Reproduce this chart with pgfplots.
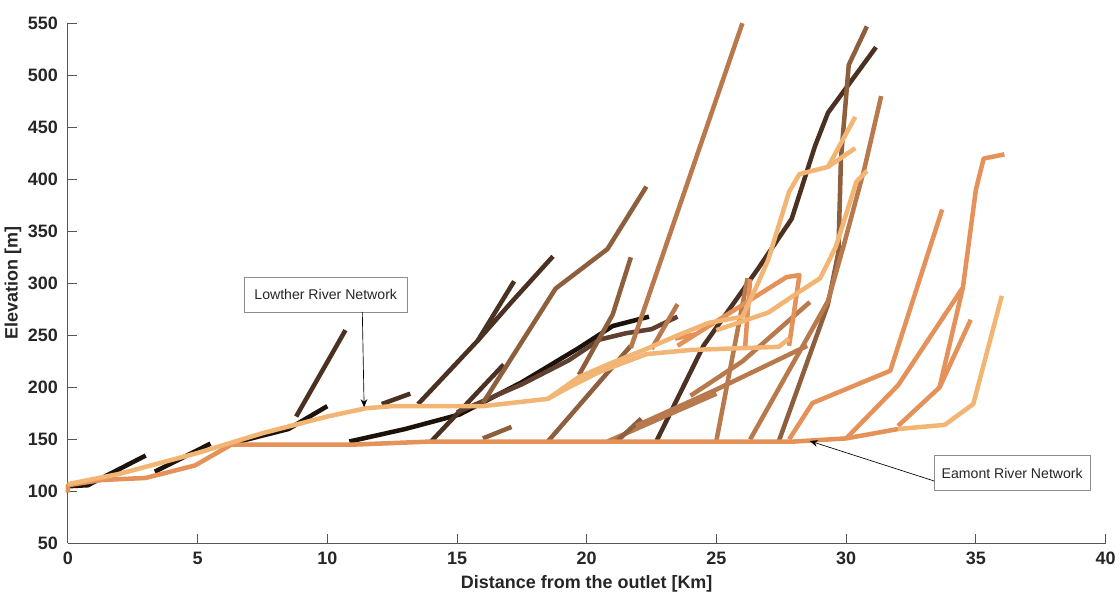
\documentclass[border=0pt]{standalone}
\usepackage{fontspec}
\setmainfont{Liberation Sans}
\usepackage{pgfplots}
\pgfplotsset{compat=1.18}
\usetikzlibrary{arrows.meta}
\definecolor{ca}{HTML}{1C120A}
\definecolor{cb}{HTML}{4A3121}
\definecolor{cbb}{HTML}{604030}
\definecolor{cc}{HTML}{8E5F3D}
\definecolor{cd}{HTML}{B8794C}
\definecolor{ce}{HTML}{E4915A}
\definecolor{cf}{HTML}{F3B574}
\definecolor{axgray}{HTML}{555555}
\begin{document}
\begin{tikzpicture}
\begin{axis}[
  scale only axis, width=780pt, height=391pt,
  xmin=0, xmax=40, ymin=50, ymax=550,
  axis lines*=left,
  axis line style={axgray, line width=0.6pt},
  tick style={axgray, line width=0.6pt},
  tick align=inside, major tick length=7pt,
  xtick={0,5,...,40}, ytick={50,100,...,550},
  /pgf/number format/assume math mode=true,
  tick label style={font=\fontsize{13.5}{15}\selectfont\bfseries, text=black!85},
  xticklabel style={yshift=-3pt},
  yticklabel style={xshift=-4pt},
  xlabel={Distance from the outlet [Km]},
  ylabel={Elevation [m]},
  label style={font=\fontsize{13.5}{15}\selectfont\bfseries, text=black!85},
  xlabel style={at={(axis description cs:0.5,-0.078)}, anchor=center},
  ylabel style={at={(axis description cs:-0.053,0.5)}, anchor=center},
  clip=false,
  every axis plot/.append style={line width=3.4pt, line join=round},
]
% black
\addplot[ca] coordinates {(0,105)(0.77,106)(3,134.5)};
\addplot[ca] coordinates {(3.35,119)(5.5,146)};
\addplot[ca] coordinates {(6.6,148)(8.5,160)(10,182)};
\addplot[ca] coordinates {(10.85,148)(13,160)(15.1,174)(17.5,205)(19.7,238)(21,259)(22.4,268)};
% dark brown
\addplot[cb] coordinates {(8.8,172)(10.7,255)};
\addplot[cb] coordinates {(12.1,184)(13.2,194)};
\addplot[cb] coordinates {(14,148)(16.8,222)};
\addplot[cb] coordinates {(13.5,184)(15.8,245)(17.2,302)};
\addplot[cb] coordinates {(15.8,245)(17.1,282)(18.7,326)};
\addplot[cbb] coordinates {(15,176)(17.5,203)(19.3,226)(20.5,246)(21.5,252)(22.5,256)(23.5,268)};
\addplot[cb] coordinates {(22.7,149)(24.5,240)(26.6,314)(27.9,362)(28.8,432)(29.3,464)(31.15,527)};
% brown
\addplot[cc] coordinates {(16,151)(17.1,162)};
\addplot[cc] coordinates {(16,185)(18.8,295)(20.8,333)(22.3,393)};
\addplot[cc] coordinates {(18.5,148)(21.7,240)};
\addplot[cc] coordinates {(19.7,212)(21,270)(21.7,325)};
\addplot[cd] coordinates {(21.7,238)(26,550)};
\addplot[cd] coordinates {(22.5,237)(23.5,280)};
\addplot[cc] coordinates {(27.4,148)(29.3,280)(29.7,330)(29.8,420)(30.1,510)(30.8,547)};
\addplot[cd] coordinates {(26.3,150)(29.3,283)(29.9,336)(30.7,410)(31.35,480)};
\addplot[cd] coordinates {(20.8,148)(25,194)};
\addplot[cc] coordinates {(21.2,149)(22.1,170)};
\addplot[cd] coordinates {(21.9,163)(25,198)(28.5,240)};
\addplot[cd] coordinates {(24,192)(26,225)(28.6,282)};
\addplot[cd] coordinates {(25,149)(26.2,305)};
% orange
\addplot[ce] coordinates {(0,99)(0,106)(1.3,111)(3,113)(4.9,125)(6.3,145)(11,145)(14,148)(28,148)(30,151)(32,160)};
\addplot[ce] coordinates {(30,151)(32,202)(34.5,296)(35,390)(35.3,420)(36.1,424)};
\addplot[ce] coordinates {(32,163)(33.6,200)(34.5,296)};
\addplot[ce] coordinates {(33.6,200)(34.8,265)};
\addplot[ce] coordinates {(27.8,150)(28.7,185)(31.7,216)(33.7,371)};
\addplot[ce] coordinates {(26.1,237)(26.3,304)};
\addplot[ce] coordinates {(23.4,247)(24.2,251)};
\addplot[ce] coordinates {(23.5,240)(27.7,306)(28.2,308)(27.8,240)};
% light
\addplot[cf] coordinates {(0,107)(2,117)(5,137)(7.5,156)(10,172)(11.5,180)(12.5,182)(16,182)(18.5,189)(19.3,200)(20.5,215)(22.3,232)(24,236)(27.4,239)(27.8,247)};
\addplot[cf] coordinates {(18.5,189)(19.7,210)(21,224)(22.3,237)(23.5,250)(24.7,262)(26,268)(26.6,300)(27,323)(27.8,388)(28.2,405)(29.3,412)(30.35,460)};
\addplot[cf] coordinates {(29.3,412)(30.35,430)};
\addplot[cf] coordinates {(25,255)(27,272)(28.2,292)(29,305)(29.6,335)(30.4,398)(30.8,408)};
\addplot[cf] coordinates {(32,160)(33.8,164)(34.9,184)(36,288)};
% annotations
\node[draw=black!45, fill=white, line width=0.5pt, minimum width=122pt, minimum height=26pt, inner sep=0pt,
  font=\fontsize{10.6}{12}\selectfont, text=black!85] (lw) at (axis cs:9.94,289) {Lowther River Network};
\draw[-{Stealth[length=6pt,width=5pt]}, line width=0.5pt] (axis cs:11.35,272.6) -- (axis cs:11.42,181);
\node[draw=black!45, fill=white, line width=0.5pt, minimum width=117pt, minimum height=26pt, inner sep=0pt,
  font=\fontsize{10.6}{12}\selectfont, text=black!85] (em) at (axis cs:36.4,117.7) {Eamont River Network};
\draw[-{Stealth[length=6pt,width=5pt]}, line width=0.5pt] (axis cs:33.4,110) -- (axis cs:28.6,148.5);
\path (rel axis cs:0,0) ++(-51pt,-37.5pt) rectangle ++(840pt,446pt);
\end{axis}
\end{tikzpicture}
\end{document}
